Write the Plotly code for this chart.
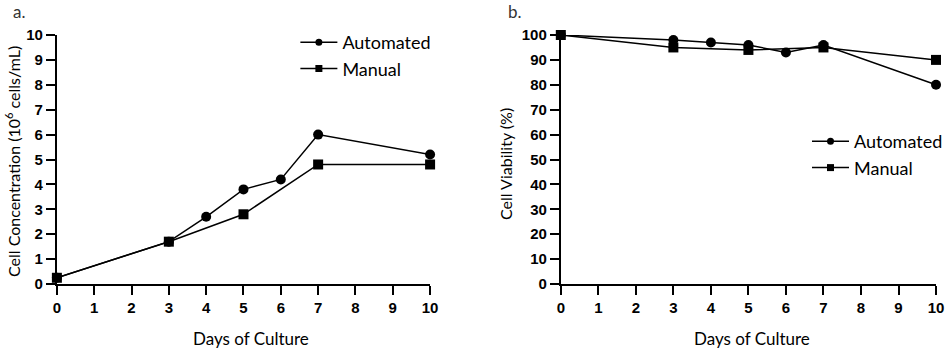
import plotly.graph_objects as go

# ---- data ----
days_auto = [0, 3, 4, 5, 6, 7, 10]
days_manual = [0, 3, 5, 7, 10]
conc_auto = [0.25, 1.7, 2.7, 3.8, 4.2, 6.0, 5.2]
conc_manual = [0.25, 1.7, 2.8, 4.8, 4.8]
via_auto = [100, 98, 97, 96, 93, 96, 80]
via_manual = [100, 95, 94, 95, 90]
series_names = ["Automated", "Manual"]
x_ticks = list(range(0, 11))
y1_ticks = list(range(0, 11))
y2_ticks = list(range(0, 101, 10))

W, H = 948, 350
def px(x):
    return x / W
def py(y):
    return 1 - y / H

fig = go.Figure()
line = dict(color="black", width=1.5)
symbols = ["circle", "square"]

panels = [
    ("x", "y", "legend", [(days_auto, conc_auto), (days_manual, conc_manual)]),
    ("x2", "y2", "legend2", [(days_auto, via_auto), (days_manual, via_manual)]),
]
for xa, ya, lg, series in panels:
    for (xs, ys), nm, sym in zip(series, series_names, symbols):
        fig.add_trace(go.Scatter(x=xs, y=ys, name=nm, mode="lines+markers",
                                 cliponaxis=False, line=line,
                                 marker=dict(symbol=sym, size=10, color="black"),
                                 xaxis=xa, yaxis=ya, showlegend=False))
    # legend entries with smaller markers, as in the reference
    for nm, sym in zip(series_names, symbols):
        fig.add_trace(go.Scatter(x=[None], y=[None], name=nm, mode="lines+markers",
                                 line=line, marker=dict(symbol=sym, size=7, color="black"),
                                 xaxis=xa, yaxis=ya, legend=lg, showlegend=True))

tickfont = dict(family="Liberation Sans, Arial, sans-serif", size=15, color="black", weight="bold")
axis_common = dict(showline=True, linewidth=2, linecolor="black", ticks="outside",
                   ticklen=9, tickwidth=2, tickcolor="black", showgrid=False,
                   zeroline=False, tickfont=tickfont, fixedrange=True, automargin=False)

ydom = [py(284), py(35)]
legend_font = dict(family="Lato, sans-serif", size=18, color="black")
fig.update_layout(
    template="none",
    width=W, height=H, margin=dict(l=0, r=0, t=0, b=0),
    plot_bgcolor="white", paper_bgcolor="white",
    xaxis=dict(domain=[px(57), px(431)], range=[0, 10], tickvals=x_ticks, anchor="y", **axis_common),
    yaxis=dict(domain=ydom, range=[0, 10], tickvals=y1_ticks, anchor="x", **axis_common),
    xaxis2=dict(domain=[px(562), px(938)], range=[0, 10], tickvals=x_ticks, anchor="y2", **axis_common),
    yaxis2=dict(domain=ydom, range=[0, 100], tickvals=y2_ticks, anchor="x2", **axis_common),
    legend=dict(x=px(296), y=py(24), xanchor="left", yanchor="top", itemwidth=37,
                font=legend_font, bgcolor="rgba(0,0,0,0)", tracegroupgap=0),
    legend2=dict(x=px(809), y=py(123), xanchor="left", yanchor="top", itemwidth=37,
                 font=legend_font, bgcolor="rgba(0,0,0,0)", tracegroupgap=0),
    showlegend=True,
)

title_font = dict(family="Lato, sans-serif", size=17, color="black")
annotations = [
    dict(text="a.", x=px(11), y=py(12), xanchor="left", yanchor="middle",
         font=dict(family="Lato, sans-serif", size=17, color="#333")),
    dict(text="b.", x=px(507), y=py(12), xanchor="left", yanchor="middle",
         font=dict(family="Lato, sans-serif", size=17, color="#333")),
    dict(text="Cell Concentration (10<sup>6</sup> cells/mL)", x=px(12), y=py(161),
         textangle=-90, xanchor="center", yanchor="middle", font=dict(title_font, size=16)),
    dict(text="Cell Viability (%)", x=px(506), y=py(164),
         textangle=-90, xanchor="center", yanchor="middle", font=dict(title_font, size=16)),
    dict(text="Days of Culture", x=px(252), y=py(338), xanchor="center", yanchor="middle", font=title_font),
    dict(text="Days of Culture", x=px(754), y=py(338), xanchor="center", yanchor="middle", font=title_font),
]
for a in annotations:
    a.update(xref="paper", yref="paper", showarrow=False)
fig.update_layout(annotations=annotations)

fig.write_html("out.html", config={"displayModeBar": False, "staticPlot": True},
               post_script="document.body.style.margin='0';document.body.style.overflow='hidden';")
